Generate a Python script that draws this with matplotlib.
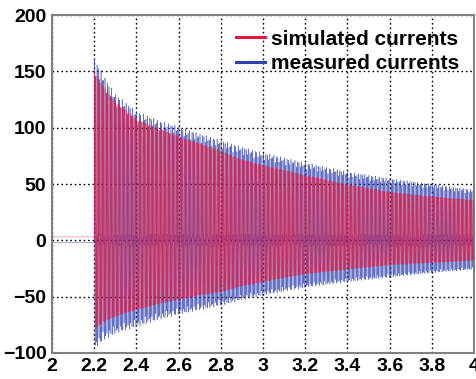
import numpy as np
import matplotlib
matplotlib.use('Agg')
import matplotlib.pyplot as plt

# envelope readings (time in s, current)
env_t = [2.2, 2.25, 2.3, 2.4, 2.5, 2.6, 2.7, 2.8, 2.9, 3.0, 3.2, 3.4, 3.6, 3.8, 4.0]
sim_up = [150, 135, 124, 108, 100, 93, 86, 80, 72, 67, 58, 50, 43, 39, 36]
sim_lo = [-80, -72, -68, -62, -57, -53, -49, -46, -41, -37, -30, -26, -22, -20, -18]
meas_up = [162, 145, 130, 115, 107, 101, 95, 89, 83, 78, 69, 61, 55, 50, 45]
meas_lo = [-97, -88, -83, -77, -71, -66, -62, -58, -53, -49, -42, -37, -33, -29, -26]

t_start = 2.2        # switching instant
f_osc = 160          # Hz, oscillation of the currents
pre_sim = 3          # level before switching
pre_meas = -2

plt.rcParams['path.simplify'] = False
t = np.arange(2.0, 4.0, 0.0004)
on = t >= t_start

ph = np.sin(2 * np.pi * f_osc * (t - t_start))
up = np.interp(t, env_t, sim_up)
lo = np.interp(t, env_t, sim_lo)
sim = np.where(ph > 0, up * ph, -lo * ph)
sim = np.where(on, sim, pre_sim)

ph2 = np.sin(2 * np.pi * f_osc * (t - t_start) + 0.4)
up2 = np.interp(t, env_t, meas_up)
lo2 = np.interp(t, env_t, meas_lo)
meas = np.where(ph2 > 0, up2 * ph2**5, -lo2 * ph2**5)
meas = meas + 6 * np.sin(2 * np.pi * 3.3 * f_osc * t) * (1 - np.abs(ph2))
meas = np.where(on, meas, pre_meas)

plt.rcParams['font.family'] = ['Liberation Sans', 'DejaVu Sans']
fig = plt.figure(figsize=(4.77, 3.79), dpi=100)
ax = fig.add_axes([0.109, 0.069, 0.885, 0.891])

ax.plot(t, meas, color='#3040b0', lw=0.4, alpha=0.75, label='measured currents', zorder=2)
ax.plot(t, sim, color='#e41840', lw=0.35, alpha=0.75, label='simulated currents', zorder=3)

ax.set_xlim(2, 4)
ax.set_ylim(-100, 200)
ax.set_xticks([2, 2.2, 2.4, 2.6, 2.8, 3, 3.2, 3.4, 3.6, 3.8, 4])
ax.set_xticklabels(['2', '2.2', '2.4', '2.6', '2.8', '3', '3.2', '3.4', '3.6', '3.8', '4'])
ax.set_yticks([-100, -50, 0, 50, 100, 150, 200])
ax.grid(True, color='black', linestyle=(0, (1.2, 2)), lw=1.0)
ax.set_axisbelow(True)
ax.tick_params(length=0, labelsize=14, pad=4)
for lab in ax.get_xticklabels() + ax.get_yticklabels():
    lab.set_fontweight('bold')
for s in ax.spines.values():
    s.set_color('#808080')
    s.set_linewidth(1.5)

h, l = ax.get_legend_handles_labels()
leg = ax.legend(h[::-1], l[::-1], loc='upper right', frameon=False, fontsize=15,
                handlelength=1.4, handletextpad=0.3, borderaxespad=0.3, labelspacing=0.25)
for txt in leg.get_texts():
    txt.set_fontweight('bold')
for ln in leg.get_lines():
    ln.set_linewidth(2.2)
    ln.set_alpha(1)

fig.savefig('out.png', dpi=100)
